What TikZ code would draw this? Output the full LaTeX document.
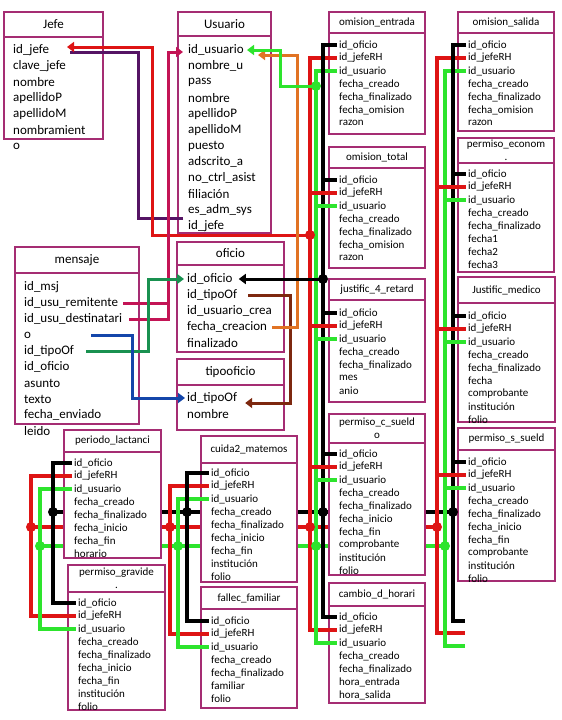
\documentclass[tikz,border=0pt]{standalone}
\usepackage{fontspec}
\setmainfont{Carlito}
\usetikzlibrary{arrows.meta,positioning,calc}

\definecolor{marco}{RGB}{165,45,115}
\definecolor{rojo}{RGB}{222,20,20}
\definecolor{verde}{RGB}{45,228,45}
\definecolor{naranja}{RGB}{225,115,35}
\definecolor{cafe}{RGB}{125,40,15}
\definecolor{verdeos}{RGB}{25,145,80}
\definecolor{azul}{RGB}{20,70,170}
\definecolor{morado}{RGB}{85,20,100}
\definecolor{carmin}{RGB}{195,20,85}

\begin{document}
\begin{tikzpicture}[
    x=1pt, y=-1pt,
    titulo/.style={
        rectangle,
        draw=marco,
        line width=1.5pt,
        fill=white,
        anchor=north west,
        inner sep=0pt,
        outer sep=0pt,
        align=center,
        font=\fontsize{11}{13}\selectfont
    },
    tituloG/.style={titulo, font=\fontsize{13}{15}\selectfont},
    cuerpo/.style={
        rectangle,
        draw=marco,
        line width=1.5pt,
        fill=white,
        inner sep=0pt,
        outer sep=0pt
    },
    campo/.style={anchor=west, inner sep=0pt, font=\fontsize{11}{13}\selectfont},
    campoG/.style={campo, font=\fontsize{13}{15}\selectfont},
    bus/.style={line width=4pt},
    liga/.style={line width=3pt},
    flecha/.style={line width=3pt, -{Triangle[length=7pt, width=10pt]}},
    punto/.style={circle, inner sep=0pt, outer sep=0pt, minimum size=10pt}
]

\fill[white] (0,0) rectangle (562,720);
\useasboundingbox (0,0) rectangle (562,720);

% columnas de enlace
\coordinate (rA) at (31,0);
\coordinate (gA) at (40,0);
\coordinate (kA) at (53,0);
\coordinate (rM) at (170,0);
\coordinate (gM) at (178,0);
\coordinate (kM) at (187,0);
\coordinate (rI) at (310,0);
\coordinate (gI) at (316,0);
\coordinate (kI) at (323,0);
\coordinate (rD) at (437,0);
\coordinate (gD) at (445,0);
\coordinate (kD) at (453,0);
\coordinate (cK) at (0,512);
\coordinate (cR) at (0,527);
\coordinate (cG) at (0,546);

\draw[bus] (kA |- cK) -- (kD |- cK);
\draw[bus, rojo] (rA |- cR) -- (rD |- cR);
\draw[bus, verde] (gA |- cG) -- (gD |- cG);

% tablas grandes
\node[tituloG, minimum width=99pt, minimum height=25pt] (jefe) at (4,12) {Jefe};
\node[cuerpo, minimum width=99pt, minimum height=102pt, below=0pt of jefe] (jefeC) {};
\foreach \nom [count=\i] in {id\_jefe,clave\_jefe,nombre,apellidoP,apellidoM,nombramient,o}
    \node[campoG] (jefe-\i) at ($(jefeC.north west)+(9,{13+16*(\i-1)})$) {\nom};

\node[tituloG, minimum width=93pt, minimum height=24pt] (usu) at (178,12) {Usuario};
\node[cuerpo, minimum width=93pt, minimum height=197pt, below=0pt of usu] (usuC) {};
\foreach \nom [count=\i] in {id\_usuario,nombre\_u,pass,nombre,apellidoP,apellidoM,puesto,adscrito\_a,no\_ctrl\_asist,filiación,es\_adm\_sys,id\_jefe}
    \node[campoG] (usu-\i) at ($(usuC.north west)+(10,{14+16*(\i-1)})$) {\nom};

\node[tituloG, minimum width=124pt, minimum height=26pt] (men) at (15,247) {mensaje};
\node[cuerpo, minimum width=124pt, minimum height=151pt, below=0pt of men] (menC) {};
\foreach \nom [count=\i] in {id\_msj,id\_usu\_remitente,id\_usu\_destinatari,o,id\_tipoOf,id\_oficio,asunto,texto,fecha\_enviado,leido}
    \node[campoG] (men-\i) at ($(menC.north west)+(9,{14+16*(\i-1)})$) {\nom};

\node[tituloG, minimum width=107pt, minimum height=23pt] (ofi) at (177,242) {oficio};
\node[cuerpo, minimum width=107pt, minimum height=87pt, below=0pt of ofi] (ofiC) {};
\foreach \nom [count=\i] in {id\_oficio,id\_tipoOf,id\_usuario\_crea,fecha\_creacion,finalizado}
    \node[campoG] (ofi-\i) at ($(ofiC.north west)+(10,{14+16*(\i-1)})$) {\nom};

\node[tituloG, minimum width=107pt, minimum height=26pt] (tipo) at (177,359) {tipooficio};
\node[cuerpo, minimum width=107pt, minimum height=45pt, below=0pt of tipo] (tipoC) {};
\foreach \nom [count=\i] in {id\_tipoOf,nombre}
    \node[campoG] (tipo-\i) at ($(tipoC.north west)+(10,{13+16*(\i-1)})$) {\nom};

% tablas de permisos
\node[titulo, minimum width=96pt, minimum height=21pt] (omEnt) at (329,12) {omision\_entrada};
\node[cuerpo, minimum width=96pt, minimum height=101pt, below=0pt of omEnt] (omEntC) {};
\foreach \nom [count=\i] in {id\_oficio,id\_jefeRH,id\_usuario,fecha\_creado,fecha\_finalizado,fecha\_omision,razon}
    \node[campo] (omEnt-\i) at ($(omEntC.north west)+(10,{12+13*(\i-1)})$) {\nom};

\node[titulo, minimum width=96pt, minimum height=21pt] (omSal) at (458,12) {omision\_salida};
\node[cuerpo, minimum width=96pt, minimum height=98pt, below=0pt of omSal] (omSalC) {};
\foreach \nom [count=\i] in {id\_oficio,id\_jefeRH,id\_usuario,fecha\_creado,fecha\_finalizado,fecha\_omision,razon}
    \node[campo] (omSal-\i) at ($(omSalC.north west)+(10,{12+13*(\i-1)})$) {\nom};

\node[titulo, minimum width=96pt, minimum height=21pt] (omTot) at (329,147) {omision\_total};
\node[cuerpo, minimum width=96pt, minimum height=100pt, below=0pt of omTot] (omTotC) {};
\foreach \nom [count=\i] in {id\_oficio,id\_jefeRH,id\_usuario,fecha\_creado,fecha\_finalizado,fecha\_omision,razon}
    \node[campo] (omTot-\i) at ($(omTotC.north west)+(10,{12+13*(\i-1)})$) {\nom};

\node[titulo, minimum width=96pt, minimum height=25pt] (pEcon) at (458,138) {permiso\_econom\\.};
\node[cuerpo, minimum width=96pt, minimum height=109pt, below=0pt of pEcon] (pEconC) {};
\foreach \nom [count=\i] in {id\_oficio,id\_jefeRH,id\_usuario,fecha\_creado,fecha\_finalizado,fecha1,fecha2,fecha3}
    \node[campo] (pEcon-\i) at ($(pEconC.north west)+(10,{11+13*(\i-1)})$) {\nom};

\node[titulo, minimum width=96pt, minimum height=21pt] (just4) at (329,279) {justific\_4\_retard};
\node[cuerpo, minimum width=96pt, minimum height=102pt, below=0pt of just4] (just4C) {};
\foreach \nom [count=\i] in {id\_oficio,id\_jefeRH,id\_usuario,fecha\_creado,fecha\_finalizado,mes,anio}
    \node[campo] (just4-\i) at ($(just4C.north west)+(10,{13+13*(\i-1)})$) {\nom};

\node[titulo, minimum width=97pt, minimum height=26pt] (jMed) at (458,277) {Justific\_medico};
\node[cuerpo, minimum width=97pt, minimum height=119pt, below=0pt of jMed] (jMedC) {};
\foreach \nom [count=\i] in {id\_oficio,id\_jefeRH,id\_usuario,fecha\_creado,fecha\_finalizado,fecha,comprobante,institución,folio}
    \node[campo] (jMed-\i) at ($(jMedC.north west)+(10,{13+13*(\i-1)})$) {\nom};

\node[titulo, minimum width=96pt, minimum height=29pt] (pCs) at (329,414) {permiso\_c\_sueld\\o};
\node[cuerpo, minimum width=96pt, minimum height=132pt, below=0pt of pCs] (pCsC) {};
\foreach \nom [count=\i] in {id\_oficio,id\_jefeRH,id\_usuario,fecha\_creado,fecha\_finalizado,fecha\_inicio,fecha\_fin,comprobante,institución,folio}
    \node[campo] (pCs-\i) at ($(pCsC.north west)+(10,{11+13*(\i-1)})$) {\nom};

\node[titulo, minimum width=97pt, minimum height=22pt] (pSs) at (458,428) {permiso\_s\_sueld};
\node[cuerpo, minimum width=97pt, minimum height=131pt, below=0pt of pSs] (pSsC) {};
\foreach \nom [count=\i] in {id\_oficio,id\_jefeRH,id\_usuario,fecha\_creado,fecha\_finalizado,fecha\_inicio,fecha\_fin,comprobante,institución,folio}
    \node[campo] (pSs-\i) at ($(pSsC.north west)+(10,{12+13*(\i-1)})$) {\nom};

\node[titulo, minimum width=96pt, minimum height=23pt] (cambio) at (329,583) {cambio\_d\_horari};
\node[cuerpo, minimum width=96pt, minimum height=97pt, below=0pt of cambio] (cambioC) {};
\foreach \nom [count=\i] in {id\_oficio,id\_jefeRH,id\_usuario,fecha\_creado,fecha\_finalizado,hora\_entrada,hora\_salida}
    \node[campo] (cambio-\i) at ($(cambioC.north west)+(10,{11+13*(\i-1)})$) {\nom};

\node[titulo, minimum width=97pt, minimum height=22pt] (lact) at (64,430) {periodo\_lactanci};
\node[cuerpo, minimum width=97pt, minimum height=106pt, below=0pt of lact] (lactC) {};
\foreach \nom [count=\i] in {id\_oficio,id\_jefeRH,id\_usuario,fecha\_creado,fecha\_finalizado,fecha\_inicio,fecha\_fin,horario}
    \node[campo] (lact-\i) at ($(lactC.north west)+(10,{11+13*(\i-1)})$) {\nom};

\node[titulo, minimum width=97pt, minimum height=27pt] (grav) at (68,565) {permiso\_gravide\\.};
\node[cuerpo, minimum width=97pt, minimum height=118pt, below=0pt of grav] (gravC) {};
\foreach \nom [count=\i] in {id\_oficio,id\_jefeRH,id\_usuario,fecha\_creado,fecha\_finalizado,fecha\_inicio,fecha\_fin,institución,folio}
    \node[campo] (grav-\i) at ($(gravC.north west)+(10,{11+13*(\i-1)})$) {\nom};

\node[titulo, minimum width=96pt, minimum height=27pt] (cuida) at (201,436) {cuida2\_matemos};
\node[cuerpo, minimum width=96pt, minimum height=119pt, below=0pt of cuida] (cuidaC) {};
\foreach \nom [count=\i] in {id\_oficio,id\_jefeRH,id\_usuario,fecha\_creado,fecha\_finalizado,fecha\_inicio,fecha\_fin,institución,folio}
    \node[campo] (cuida-\i) at ($(cuidaC.north west)+(10,{10+13*(\i-1)})$) {\nom};

\node[titulo, minimum width=96pt, minimum height=22pt] (fallec) at (201,587) {fallec\_familiar};
\node[cuerpo, minimum width=96pt, minimum height=99pt, below=0pt of fallec] (fallecC) {};
\foreach \nom [count=\i] in {id\_oficio,id\_jefeRH,id\_usuario,fecha\_creado,fecha\_finalizado,familiar,folio}
    \node[campo] (fallec-\i) at ($(fallecC.north west)+(10,{12+13*(\i-1)})$) {\nom};

% buses de id_oficio / id_jefeRH / id_usuario
\draw[bus, rojo] ([xshift=-2pt]lact-2.west) -- (lact-2.west -| rA) -- (grav-2.west -| rA) -- ([xshift=-2pt]grav-2.west);
\draw[bus, verde] ([xshift=-2pt]lact-3.west) -- (lact-3.west -| gA) -- (grav-3.west -| gA) -- ([xshift=-2pt]grav-3.west);
\draw[bus] ([xshift=-2pt]lact-1.west) -- (lact-1.west -| kA) -- (grav-1.west -| kA) -- ([xshift=-2pt]grav-1.west);

\draw[bus, rojo] ([xshift=-2pt]cuida-2.west) -- (cuida-2.west -| rM) -- (fallec-2.west -| rM) -- ([xshift=-2pt]fallec-2.west);
\draw[bus, verde] ([xshift=-2pt]cuida-3.west) -- (cuida-3.west -| gM) -- (fallec-3.west -| gM) -- ([xshift=-2pt]fallec-3.west);
\draw[bus] ([xshift=-2pt]cuida-1.west) -- (cuida-1.west -| kM) -- (fallec-1.west -| kM) -- ([xshift=-2pt]fallec-1.west);

\draw[bus, rojo] ([xshift=-2pt]omEnt-2.west) -- (omEnt-2.west -| rI) -- (cambio-2.west -| rI) -- ([xshift=-2pt]cambio-2.west);
\draw[bus, verde] ([xshift=-2pt]omEnt-3.west) -- (omEnt-3.west -| gI) -- (cambio-3.west -| gI) -- ([xshift=-2pt]cambio-3.west);
\draw[bus] ([xshift=-2pt]omEnt-1.west) -- (omEnt-1.west -| kI) -- (cambio-1.west -| kI) -- ([xshift=-2pt]cambio-1.west);
\foreach \t in {omTot,just4,pCs}{
    \draw[bus, rojo] (\t-2.west -| rI) -- ([xshift=-2pt]\t-2.west);
    \draw[bus, verde] (\t-3.west -| gI) -- ([xshift=-2pt]\t-3.west);
    \draw[bus] (\t-1.west -| kI) -- ([xshift=-2pt]\t-1.west);
}

\coordinate (finK) at (465,621);
\coordinate (finR) at (465,633);
\coordinate (finG) at (465,646);
\draw[bus, rojo] ([xshift=-2pt]omSal-2.west) -- (omSal-2.west -| rD) -- (rD |- finR) -- (finR);
\draw[bus, verde] ([xshift=-2pt]omSal-3.west) -- (omSal-3.west -| gD) -- (gD |- finG) -- (finG);
\draw[bus] ([xshift=-2pt]omSal-1.west) -- (omSal-1.west -| kD) -- (kD |- finK) -- (finK);
\foreach \t in {pEcon,jMed,pSs}{
    \draw[bus, rojo] (\t-2.west -| rD) -- ([xshift=-2pt]\t-2.west);
    \draw[bus, verde] (\t-3.west -| gD) -- ([xshift=-2pt]\t-3.west);
    \draw[bus] (\t-1.west -| kD) -- ([xshift=-2pt]\t-1.west);
}

\foreach \b in {kA,kM,kI,kD}
    \node[punto, fill=black] (p-\b) at (\b |- cK) {};
\foreach \b in {rA,rM,rI,rD}
    \node[punto, fill=rojo] (p-\b) at (\b |- cR) {};
\foreach \b in {gA,gM,gI,gD}
    \node[punto, fill=verde] (p-\b) at (\b |- cG) {};

% enlaces de Jefe, Usuario y oficio
\coordinate (codoJ) at (152,0);
\coordinate (codoP) at (138,0);
\coordinate (codoC) at (168,0);
\coordinate (codoV) at (148,0);
\coordinate (codoA) at (132,0);
\coordinate (codoB) at (290,0);
\coordinate (codoN) at (297,0);
\coordinate (codoG) at (280,0);
\coordinate (jefeTip) at ($(jefe-1.west)+(54,-3)$);
\coordinate (jefeTipP) at ($(jefe-1.west)+(57,2)$);
\coordinate (usuTipC) at ($(usu-1.west)+(-5,2)$);
\coordinate (usuTipG) at ($(usu-1.east)+(3,0)$);
\coordinate (usuTipN) at ($(usu-1.east)+(14,5)$);
\coordinate (tipoTip) at ($(tipo-1.east)+(8,5)$);
\coordinate (usuJefe) at ($(usu-12.west)+(-5,-8)$);

\node[punto, fill=rojo] (pJefe) at (rI |- 0,235) {};
\node[punto, fill=verde] (pUsu) at (gI |- 0,86) {};
\node[punto, fill=black] (pOfi) at (kI |- ofi-1) {};

\draw[liga, morado] (usuJefe) -- (usuJefe -| codoP) -- (codoP |- jefeTipP) -- (jefeTipP);
\draw[flecha, rojo] (pJefe.center) -- (pJefe.center -| codoJ) -- (codoJ |- jefeTip) -- (jefeTip);

\draw[liga, carmin] ($(men-2.east)+(5,0)$) -- (codoC |- men-2);
\draw[flecha, carmin] ($(men-3.east)+(7,0)$) -- (codoC |- men-3) -- (codoC |- usuTipC) -- (usuTipC);
\draw[flecha, verdeos] ($(men-5.east)+(12,0)$) -- (codoV |- men-5) -- (codoV |- ofi-1) -- ([xshift=-3pt]ofi-1.west);
\draw[flecha, azul] ($(men-4.east)+(60,0)$) -- (codoA |- men-4) -- (codoA |- tipo-1) -- ([xshift=-2pt]tipo-1.west);

\draw[flecha, cafe] ($(ofi-2.east)+(11,0)$) -- (codoB |- ofi-2) -- (codoB |- tipoTip) -- (tipoTip);
\draw[flecha, naranja] ($(ofi-4.east)+(5,0)$) -- (codoN |- ofi-4) -- (codoN |- usuTipN) -- (usuTipN);
\draw[flecha, verde] (pUsu.center) -- (pUsu.center -| codoG) -- (codoG |- usuTipG) -- (usuTipG);
\draw[flecha] (pOfi.center) -- ($(ofi-1.east)+(6,0)$);

\end{tikzpicture}
\end{document}
